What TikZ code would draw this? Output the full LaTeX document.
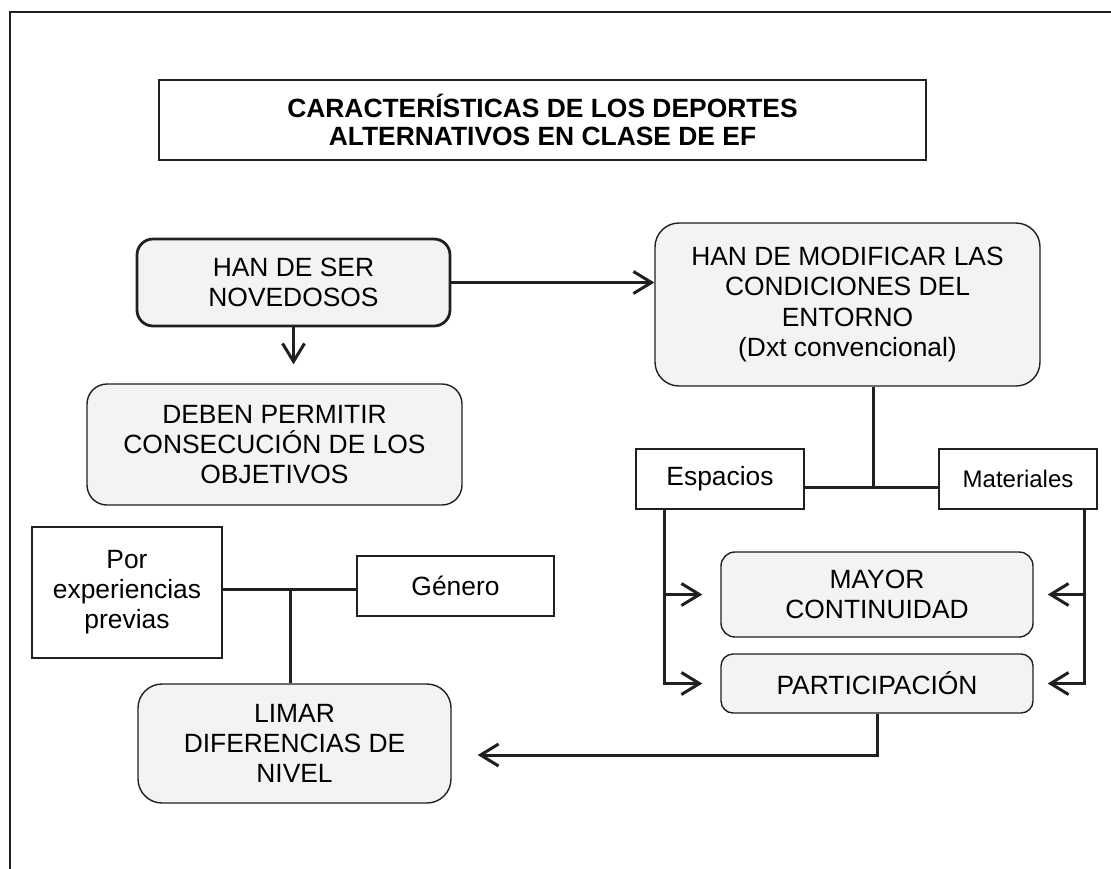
\documentclass[tikz,border=0pt]{standalone}
\usepackage{fontspec}
\setmainfont{Liberation Sans}
\usepackage{xcolor}
\usetikzlibrary{positioning, arrows.meta}

\definecolor{boxgray}{RGB}{242,243,245}
\definecolor{inkgray}{RGB}{35,31,32}

\tikzset{
  roundbox/.style={draw=inkgray, line width=0.7pt, rounded corners=10pt, fill=boxgray,
    inner sep=0pt, align=center, font=\fontsize{13.2}{15}\selectfont},
  plainbox/.style={draw=inkgray, line width=0.7pt, fill=white,
    inner sep=0pt, align=center, font=\fontsize{13.2}{15}\selectfont},
  conn/.style={draw=inkgray, line width=1.5pt},
  arr/.style={conn, -{Straight Barb[length=9pt,width=11pt,line width=1.5pt]}},
}

\begin{document}
\begin{tikzpicture}[x=0.5pt, y=-0.5pt]
		% page and outer frame (right and bottom lie outside the page)
		\useasboundingbox (0,0) rectangle (1111,868);
		\draw[inkgray, line width=1.2pt] (10,900) -- (10,12) -- (1140,12);

		% Title
		\node (title) at (542.5,120) [plainbox, line width=1pt, minimum width=383.5pt, minimum height=40pt,
		  font=\bfseries\fontsize{13.2}{14}\selectfont]
		  {CARACTERÍSTICAS DE LOS DEPORTES\\ ALTERNATIVOS EN CLASE DE EF};

		% Left column
		\node (nov) at (293.5,282.5) [roundbox, line width=1.4pt, rounded corners=8pt, minimum width=156.5pt, minimum height=43.5pt]
		  {HAN DE SER\\NOVEDOSOS};
		\node (obj) at (274.5,444.5) [roundbox, minimum width=187.5pt, minimum height=60.5pt]
		  {DEBEN PERMITIR\\CONSECUCIÓN DE LOS\\OBJETIVOS};
		\node (por) at (127,592.5) [plainbox, minimum width=95pt, minimum height=65.5pt]
		  {Por\\experiencias\\previas};
		\node (gen) at (455.5,586) [plainbox, minimum width=98.5pt, minimum height=30pt] {Género};
		\node (lim) at (294.5,743.5) [roundbox, rounded corners=12pt, minimum width=156.5pt, minimum height=59.5pt]
		  {LIMAR\\DIFERENCIAS DE\\NIVEL};

		% Right column
		\node (mod) at (847.5,304.5) [roundbox, rounded corners=12pt, minimum width=192.5pt, minimum height=81.5pt,
		  font=\fontsize{13.2}{15.2}\selectfont]
		  {HAN DE MODIFICAR LAS\\CONDICIONES DEL\\ENTORNO\\(Dxt convencional)};
		\node (esp) at (720,479) [plainbox, minimum width=84pt, minimum height=30pt] {Espacios};
		\node (mat) at (1018,479) [plainbox, minimum width=79pt, minimum height=30pt,
		  font=\fontsize{12}{14}\selectfont] {Materiales};
		\node (may) at (877,594.5) [roundbox, rounded corners=7pt, minimum width=156pt, minimum height=42.5pt]
		  {MAYOR\\CONTINUIDAD};
		\node (par) at (877,683.5) [roundbox, rounded corners=6pt, minimum width=156pt, minimum height=29.5pt]
		  {PARTICIPACIÓN};

		% junctions
		\coordinate (jmod) at (873,487);
		\coordinate (jlim) at (290,589);
		\coordinate (jpar) at (877,755);
		\coordinate (lesp) at (664,509);
		\coordinate (lmat) at (1084,509);

		% Connectors
		\draw[arr] (nov.east) -- (nov.east -| mod.west);
		\draw[arr, shorten >=9.5pt] (nov.south) -- (nov.south |- obj.north);

		\draw[conn] (mod.south -| jmod) -- (jmod);
		\draw[conn] (esp.east |- jmod) -- (mat.west |- jmod);
		\draw[arr, shorten >=9pt] (lesp) |- (par.west);
		\draw[arr, shorten >=9pt] (lesp |- may.west) -- (may.west);
		\draw[arr, shorten >=7pt] (lmat) |- (par.east);
		\draw[arr, shorten >=7pt] (lmat |- may.east) -- (may.east);

		\draw[conn] (por.east |- jlim) -- (gen.west |- jlim);
		\draw[conn] (jlim) -- (jlim |- lim.north);
		\draw[arr, shorten >=13pt] (par.south) -- (jpar) -- (jpar -| lim.east);
	\end{tikzpicture}
\end{document}
